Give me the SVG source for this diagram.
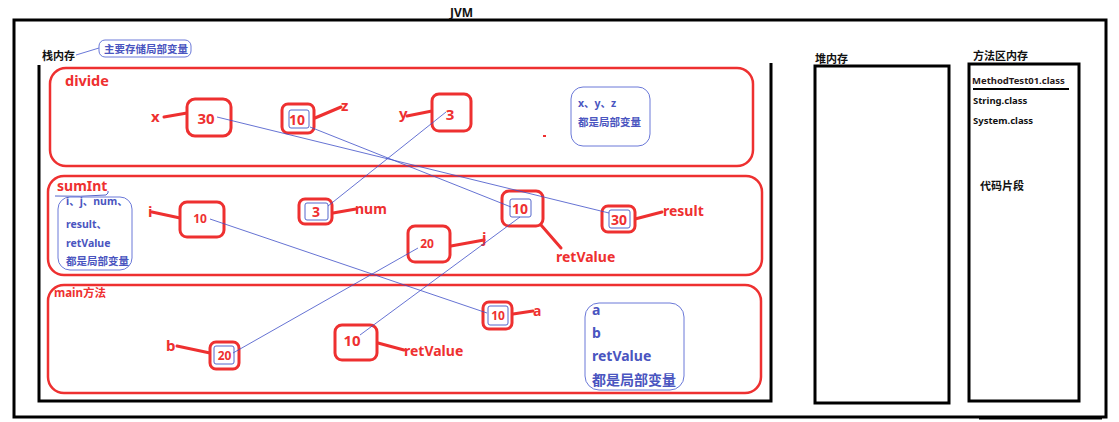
<svg xmlns="http://www.w3.org/2000/svg" width="1119" height="422" viewBox="0 0 1119 422">
<style>
.frame{fill:none;stroke:#000;stroke-width:3}
.mth{fill:none;stroke:#ee3030;stroke-width:2.5}
.var{fill:#fff;stroke:#ee3030;stroke-width:3}
.inner{fill:none;stroke:#5566cc;stroke-width:1}
.lead{stroke:#ee3030;stroke-width:3;stroke-linecap:round}
.link{stroke:#3f4fc8;stroke-width:0.8;fill:none}
.note{fill:#fff;stroke:#6a78d8;stroke-width:1}
.t{font-family:"Noto Sans","Noto Sans CJK SC",sans-serif;font-weight:bold}
.red{fill:#ee3030}
.blue{fill:#4a55c0}
.blk{fill:#111}
</style>
<rect width="1119" height="422" fill="#fff"/>
<g id="jvm">
<rect class="frame" x="14" y="20" width="1092" height="397"/>
<text class="t blk" x="450" y="17" font-size="12">JVM</text>
</g>
<g id="stack">
<path class="frame" d="M39 65 V401 H771 V63"/>
<text class="t blk" x="42" y="60" font-size="11">栈内存</text>
<line x1="76" y1="55" x2="99" y2="48" stroke="#6a78d8" stroke-width="1"/>
<rect class="note" x="99" y="40" width="92" height="17" rx="6"/>
<text class="t blue" x="104" y="52.5" font-size="10.5" font-weight="normal">主要存储局部变量</text>
</g>
<g id="divide">
<rect class="mth" x="50" y="68" width="703" height="98" rx="16"/>
<text class="t red" x="65" y="86" font-size="14.5">divide</text>
<rect class="note" x="571" y="87" width="79" height="59" rx="12"/>
<text class="t blue" x="578" y="107" font-size="10.5">x、y、z</text>
<text class="t blue" x="578" y="126" font-size="10.5" font-weight="normal">都是局部变量</text>
<rect x="543" y="135" width="3" height="2" fill="#ee3030"/>
</g>
<g id="divide-x">
<line class="lead" x1="164" y1="117" x2="187" y2="113"/>
<text class="t red" x="151" y="122" font-size="15">x</text>
<rect class="var" x="187" y="99" width="44" height="37" rx="8"/>
<text class="t red" x="206" y="124" font-size="15" text-anchor="middle">30</text>
</g>
<g id="divide-z">
<line class="lead" x1="315" y1="118" x2="341" y2="107"/>
<text class="t red" x="341" y="111" font-size="15">z</text>
<rect class="var" x="282" y="104" width="32" height="29" rx="6"/>
<rect class="inner" x="289" y="110" width="20" height="18" rx="2"/>
<text class="t red" x="297" y="125" font-size="14" text-anchor="middle">10</text>
</g>
<g id="divide-y">
<line class="lead" x1="407" y1="116" x2="432" y2="111"/>
<text class="t red" x="399" y="119" font-size="15">y</text>
<rect class="var" x="432" y="94" width="39" height="37" rx="7"/>
<text class="t red" x="450" y="120" font-size="15" text-anchor="middle">3</text>
</g>
<g id="sumInt">
<rect class="mth" x="48" y="176" width="714" height="99" rx="16"/>
<text class="t red" x="57" y="191" font-size="14">sumInt</text>
<path d="M55 196 Q80 197 106 195 Q109 193 108 191" fill="none" stroke="#5566cc" stroke-width="1"/>
<rect class="note" x="58" y="197" width="74" height="73" rx="12"/>
<text class="t blue" x="66" y="205" font-size="10.5">i、j、num、</text>
<text class="t blue" x="66" y="228" font-size="10.5">result、</text>
<text class="t blue" x="66" y="247" font-size="10.5">retValue</text>
<text class="t blue" x="66" y="265" font-size="10.5" font-weight="normal">都是局部变量</text>
</g>
<g id="sum-i">
<line class="lead" x1="152" y1="212" x2="180" y2="218"/>
<text class="t red" x="148" y="217" font-size="15">i</text>
<rect class="var" x="180" y="202" width="44" height="35" rx="7"/>
<text class="t red" x="200" y="223" font-size="12" text-anchor="middle">10</text>
</g>
<g id="sum-num">
<line class="lead" x1="333" y1="213" x2="356" y2="209"/>
<text class="t red" x="355" y="214" font-size="14">num</text>
<rect class="var" x="299" y="199" width="33" height="25" rx="6"/>
<rect class="inner" x="305" y="203" width="23" height="17" rx="2"/>
<text class="t red" x="316" y="217" font-size="14" text-anchor="middle">3</text>
</g>
<g id="sum-retValue">
<line class="lead" x1="541" y1="225" x2="561" y2="248"/>
<text class="t red" x="556" y="262" font-size="14">retValue</text>
<rect class="var" x="502" y="191" width="41" height="35" rx="7"/>
<rect class="inner" x="510" y="199" width="21" height="18" rx="2"/>
<text class="t red" x="520" y="213.5" font-size="14" text-anchor="middle">10</text>
</g>
<g id="sum-result">
<line class="lead" x1="635" y1="219" x2="662" y2="212"/>
<text class="t red" x="663" y="216" font-size="14">result</text>
<rect class="var" x="602" y="206" width="33" height="26" rx="6"/>
<rect class="inner" x="609" y="210" width="21" height="18" rx="2"/>
<text class="t red" x="619" y="224.5" font-size="14" text-anchor="middle">30</text>
</g>
<g id="sum-j">
<line class="lead" x1="451" y1="246" x2="484" y2="240"/>
<text class="t red" x="482" y="243" font-size="15">j</text>
<rect class="var" x="408" y="226" width="42" height="36" rx="7"/>
<text class="t red" x="427" y="248" font-size="12" text-anchor="middle">20</text>
</g>
<g id="main">
<rect class="mth" x="48" y="285" width="713" height="108" rx="16"/>
<text class="t red" x="54" y="297" font-size="11.5">main方法</text>
<rect class="note" x="585" y="303" width="99" height="87" rx="14"/>
<text class="t blue" x="592" y="315" font-size="14">a</text>
<text class="t blue" x="592" y="338" font-size="14">b</text>
<text class="t blue" x="592" y="361" font-size="14">retValue</text>
<text class="t blue" x="592" y="385" font-size="14" font-weight="normal">都是局部变量</text>
</g>
<g id="main-b">
<line class="lead" x1="177" y1="346" x2="210" y2="353"/>
<text class="t red" x="166" y="351" font-size="15">b</text>
<rect class="var" x="210" y="342" width="29" height="27" rx="6"/>
<rect class="inner" x="214" y="346" width="20" height="18" rx="2"/>
<text class="t red" x="224.5" y="360" font-size="12" text-anchor="middle">20</text>
</g>
<g id="main-retValue">
<line class="lead" x1="378" y1="343" x2="404" y2="350"/>
<text class="t red" x="404" y="356" font-size="14">retValue</text>
<rect class="var" x="335" y="325" width="42" height="35" rx="7"/>
<text class="t red" x="352" y="346" font-size="15" text-anchor="middle">10</text>
</g>
<g id="main-a">
<line class="lead" x1="513" y1="314" x2="533" y2="311"/>
<text class="t red" x="533" y="316" font-size="14">a</text>
<rect class="var" x="483" y="302" width="29" height="27" rx="6"/>
<rect class="inner" x="488" y="306" width="20" height="19" rx="2"/>
<text class="t red" x="498" y="320" font-size="12" text-anchor="middle">10</text>
</g>
<g id="heap">
<text class="t blk" x="815" y="63" font-size="11">堆内存</text>
<rect class="frame" x="815" y="66" width="134" height="337" stroke-width="2.5"/>
</g>
<g id="methodArea">
<text class="t blk" x="973" y="60" font-size="11">方法区内存</text>
<rect class="frame" x="969" y="64" width="110" height="337" stroke-width="2.5"/>
<text class="t" x="972" y="84" font-size="9.5" fill="#2a1a1a">MethodTest01.class</text>
<line x1="973" y1="89" x2="1069" y2="89" stroke="#000" stroke-width="2"/>
<text class="t blk" x="973" y="104" font-size="9.5">String.class</text>
<text class="t blk" x="973" y="124" font-size="9.5">System.class</text>
<text class="t blk" x="980" y="190" font-size="11">代码片段</text>
<line x1="979" y1="418.5" x2="1102" y2="418.5" stroke="#000" stroke-width="2"/>
</g>
<g id="connectors">
<line class="link" x1="217" y1="117" x2="609" y2="213"/>
<line class="link" x1="310" y1="127" x2="511" y2="207"/>
<line class="link" x1="446" y1="112" x2="328" y2="206"/>
<line class="link" x1="210" y1="219" x2="487" y2="313"/>
<line class="link" x1="233" y1="353" x2="418" y2="248"/>
<line class="link" x1="360" y1="335" x2="520" y2="217"/>
</g>
</svg>
